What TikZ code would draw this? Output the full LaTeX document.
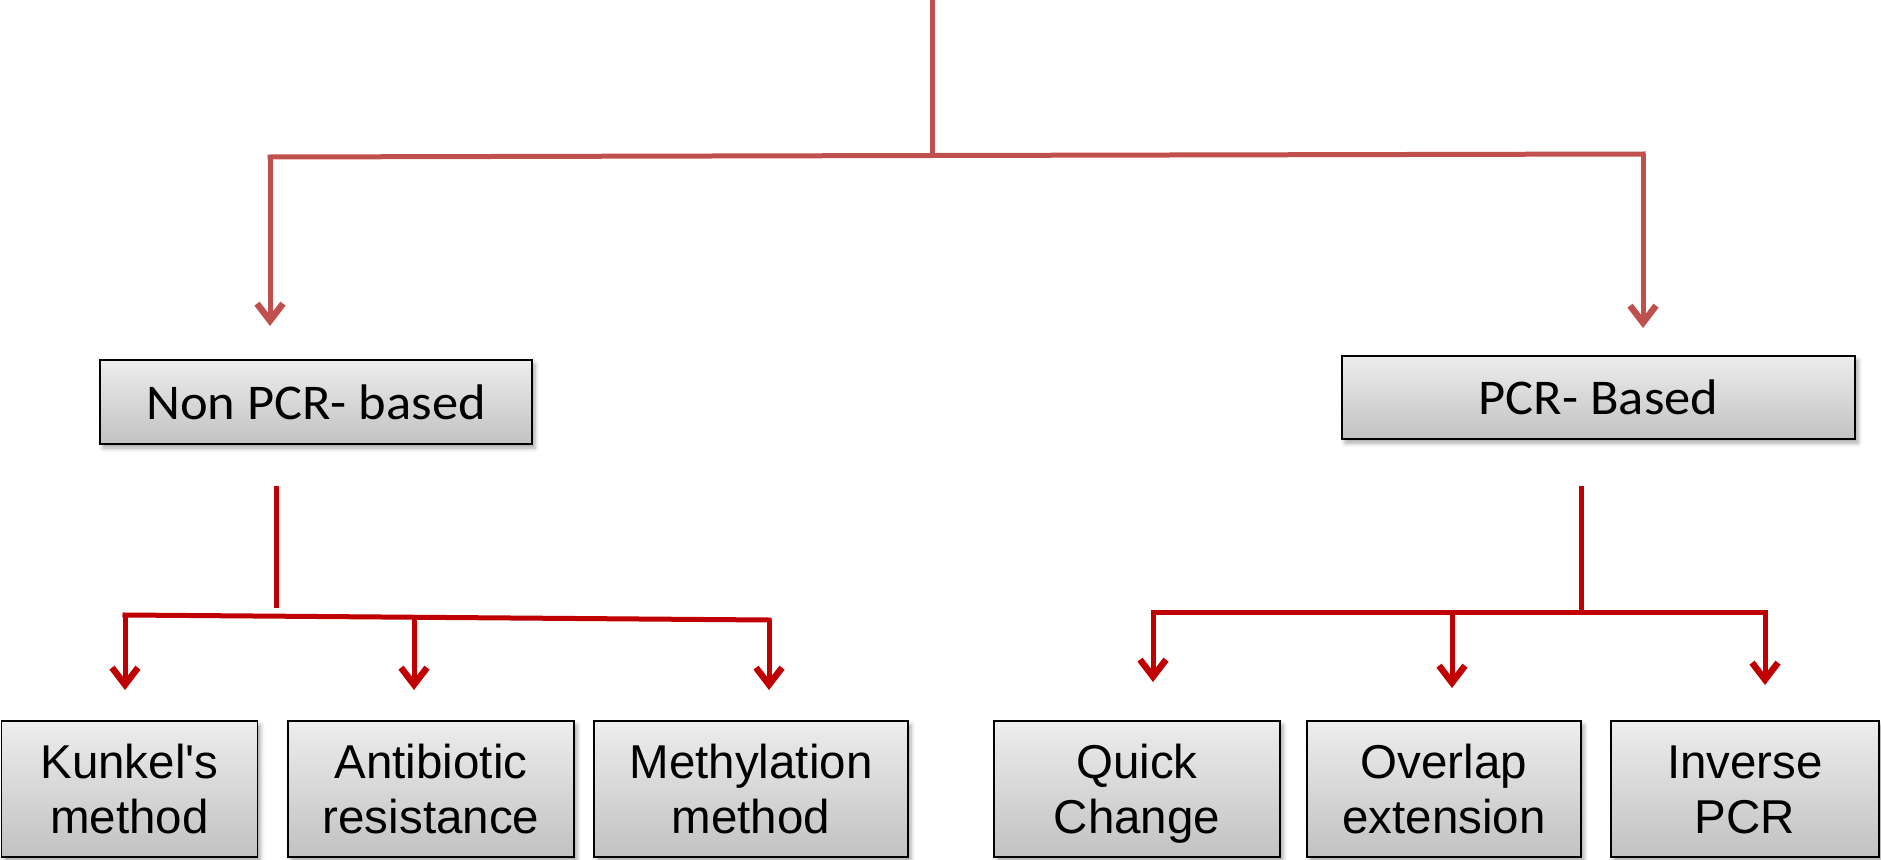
\documentclass[tikz,border=0pt]{standalone}
\usepackage{fontspec}
\usetikzlibrary{arrows.meta,shadows.blur}
\newfontfamily\calfont[FakeStretch=1.05]{Carlito}
\newfontfamily\arfont{Liberation Sans}
\definecolor{toplinecol}{HTML}{C0504D}
\definecolor{lowlinecol}{HTML}{C00000}
\newcommand{\topstrut}{\rule{0pt}{44pt}}
\newcommand{\botstrut}{\rule[-11pt]{0pt}{11pt}}
\tikzset{
  boxbase/.style={draw=black, line width=1.6pt, top color=black!7, bottom color=black!24,
    inner sep=0pt, align=center,
    blur shadow={shadow xshift=3pt, shadow yshift=-4pt, shadow blur radius=4pt, shadow opacity=35}},
  midbox/.style={boxbase, font=\calfont\fontsize{50}{60}\selectfont},
  lowbox/.style={boxbase, font=\arfont\fontsize{47.5}{55}\selectfont, minimum height=136pt},
  topline/.style={draw=toplinecol, line width=5pt},
  lowline/.style={draw=lowlinecol, line width=5pt},
  toparrow/.style={topline, -{Straight Barb[length=17pt,width=26pt,line width=6.5pt]}},
  lowarrow/.style={lowline, -{Straight Barb[length=17pt,width=26pt,line width=6.5pt]}}
}
\begin{document}
\begin{tikzpicture}[x=1pt,y=-1pt]
\useasboundingbox (0,0) rectangle (1881,859);
% boxes
\node[midbox, minimum width=432pt, minimum height=84pt] (nonpcr) at (316,402) {Non PCR- based};
\node[midbox, minimum width=513pt, minimum height=83pt] (pcr) at (1598.5,397.5) {PCR- Based};
\node[lowbox, minimum width=256pt] (kunkel) at (129.5,789) {\topstrut Kunkel's\\method\botstrut};
\node[lowbox, minimum width=286pt] (antib) at (431,789) {\topstrut Antibiotic\\resistance\botstrut};
\node[lowbox, minimum width=314pt] (methyl) at (751,789) {\topstrut Methylation\\method\botstrut};
\node[lowbox, minimum width=286pt] (quick) at (1137,789) {\topstrut Quick\\Change\botstrut};
\node[lowbox, minimum width=274pt] (overlap) at (1444,789) {\topstrut Overlap\\extension\botstrut};
\node[lowbox, minimum width=268pt] (inverse) at (1745,789) {\topstrut Inverse\\PCR\botstrut};
% top connectors
\coordinate (root) at (932,-3);
\coordinate (j0) at (932,155.5);
\coordinate (jl) at (270,157);
\coordinate (jr) at (1643,154);
\coordinate (tl) at (270,326);
\coordinate (tr) at (1643,328);
\draw[topline] (root) -- (j0);
\draw[topline, line cap=rect] (jl) -- (j0) -- (jr);
\draw[toparrow] (jl) -- (tl);
\draw[toparrow] (jr) -- (tr);
% lower left
\coordinate (ls) at (276,486);
\coordinate (lj) at (276,608);
\coordinate (lb1) at (125,615);
\coordinate (lb3) at (769,620);
\coordinate (lm) at (414,617.2);
\coordinate (la1) at (125,690);
\coordinate (la2) at (414,690);
\coordinate (la3) at (769,690);
\draw[lowline] (ls) -- (lj);
\draw[lowline, line cap=rect] (lb1) -- (lb3);
\draw[lowarrow] (lb1) -- (la1);
\draw[lowarrow] (lm) -- (la2);
\draw[lowarrow] (lb3) -- (la3);
% lower right
\coordinate (rs) at (1581,486);
\coordinate (rj) at (1581,610);
\coordinate (rb1) at (1153,612);
\coordinate (rb3) at (1765,612);
\coordinate (rm) at (1452,615);
\coordinate (ra1) at (1153,682);
\coordinate (ra2) at (1452,688);
\coordinate (ra3) at (1765,685);
\draw[lowline] (rs) -- (rj);
\draw[lowline, line cap=rect] (rb1) -- (rb3);
\draw[lowarrow] (rb1) -- (ra1);
\draw[lowarrow] (rm) -- (ra2);
\draw[lowarrow] (rb3) -- (ra3);
\end{tikzpicture}
\end{document}
